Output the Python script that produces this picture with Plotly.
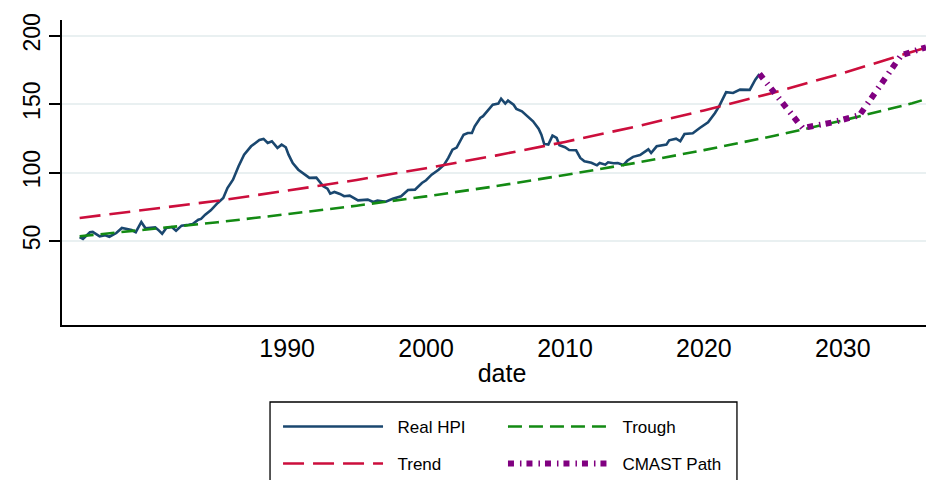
import plotly.graph_objects as go

# ---- data ----
hpi_date = [1975.06, 1975.3, 1975.8, 1976.0, 1976.5, 1976.9, 1977.2, 1977.7, 1978.1, 1978.4,
            1978.8, 1979.1, 1979.5, 1979.8, 1980.5, 1980.7, 1981.0, 1981.3, 1981.7, 1982.0,
            1982.4, 1982.9, 1983.2, 1983.6, 1983.8, 1984.1, 1984.5, 1985.0, 1985.4, 1985.7,
            1986.1, 1986.5, 1986.9, 1987.4, 1988.0, 1988.3, 1988.6, 1988.9, 1989.3, 1989.6,
            1989.9, 1990.1, 1990.4, 1990.8, 1991.3, 1991.6, 1992.1, 1992.6, 1992.9, 1993.1,
            1993.4, 1993.8, 1994.1, 1994.5, 1995.1, 1995.8, 1996.2, 1996.5, 1997.1, 1997.6,
            1998.2, 1998.7, 1999.2, 1999.7, 2000.0, 2000.4, 2000.9, 2001.3, 2001.6, 2001.9,
            2002.2, 2002.7, 2003.0, 2003.3, 2003.5, 2003.9, 2004.1, 2004.5, 2004.8, 2005.2,
            2005.4, 2005.7, 2005.9, 2006.3, 2006.5, 2006.9, 2007.3, 2007.7, 2008.1, 2008.3,
            2008.5, 2008.8, 2009.1, 2009.4, 2009.6, 2010.0, 2010.3, 2010.8, 2011.1, 2011.4,
            2011.9, 2012.3, 2012.5, 2012.9, 2013.1, 2013.5, 2013.8, 2014.2, 2014.5, 2014.9,
            2015.4, 2015.7, 2016.0, 2016.2, 2016.6, 2017.3, 2017.5, 2018.0, 2018.3, 2018.6,
            2019.2, 2019.7, 2020.3, 2020.8, 2021.1, 2021.6, 2022.1, 2022.6, 2023.3, 2023.7,
            2024.0]
hpi_value = [52.9, 51.5, 56.4, 56.6, 53.4, 54.2, 53.1, 55.8, 59.5, 58.8,
             58.0, 56.4, 63.9, 59.3, 60.0, 58.3, 55.3, 59.5, 60.2, 57.5,
             61.2, 61.9, 62.4, 65.6, 66.1, 69.2, 72.4, 77.8, 81.4, 88.7,
             94.8, 104.6, 113.1, 119.2, 123.8, 124.6, 121.6, 122.9, 118.0, 120.4,
             118.5, 113.1, 107.0, 102.1, 98.0, 96.1, 96.3, 90.0, 88.2, 84.6,
             85.8, 84.4, 82.7, 83.1, 79.7, 80.2, 78.5, 79.5, 78.7, 80.9,
             82.7, 87.3, 87.5, 92.4, 94.4, 98.5, 102.1, 105.8, 110.7, 116.7,
             118.3, 127.7, 128.9, 128.9, 133.8, 139.9, 141.2, 146.0, 149.6, 150.4,
             154.0, 150.4, 152.6, 149.6, 146.5, 144.8, 141.2, 137.5, 132.1, 127.7,
             120.9, 120.4, 127.0, 125.3, 120.0, 118.5, 116.5, 116.3, 110.7, 108.3,
             107.2, 105.3, 107.0, 105.8, 107.5, 106.8, 107.0, 105.5, 108.8, 111.5,
             112.8, 115.0, 117.0, 114.3, 119.2, 120.4, 123.6, 124.8, 122.9, 128.2,
             128.7, 132.6, 136.8, 143.6, 148.5, 158.7, 158.2, 160.6, 160.4, 167.9,
             172.1]

line_date = [1975.06, 1980, 1985, 1990, 1995, 2000, 2005, 2010, 2015, 2020, 2025, 2030, 2035, 2036.08]
trend_value = [66.8, 72.8, 79.4, 86.8, 94.6, 103.2, 112.4, 122.4, 133.4, 145.4, 158.4, 172.7, 188.2, 191.6]
trough_value = [53.4, 58.3, 63.7, 69.6, 75.8, 82.6, 90.0, 98.2, 106.9, 116.4, 126.7, 138.1, 150.6, 154.0]

cmast_date = [2024.0, 2027.1, 2029.2, 2031.2, 2034.2, 2035.1, 2036.0]
cmast_value = [172.1, 132.6, 136.5, 141.9, 185.7, 188.6, 191.6]

x_ticks = [1990, 2000, 2010, 2020, 2030]
y_ticks = [50, 100, 150, 200]

FONT = "Liberation Sans, Arial, sans-serif"
PAD = "\u00a0\u00a0"

fig = go.Figure()
fig.add_trace(go.Scatter(x=hpi_date, y=hpi_value, mode="lines", name=PAD + "Real HPI",
                         line=dict(color="#1a476f", width=2.6), legend="legend"))
fig.add_trace(go.Scatter(x=line_date, y=trough_value, mode="lines", name=PAD + "Trough",
                         line=dict(color="#138a13", width=2.6, dash="14px,7px"), legend="legend2"))
fig.add_trace(go.Scatter(x=line_date, y=trend_value, mode="lines", name=PAD + "Trend",
                         line=dict(color="#cc0e3c", width=2.6, dash="21px,9px"), legend="legend3"))
fig.add_trace(go.Scatter(x=cmast_date, y=cmast_value, mode="lines", name=PAD + "CMAST Path",
                         line=dict(color="#800080", width=6, dash="6px,6px,1.5px,5px"), legend="legend4"))

def leg(x, y):
    return dict(x=x, y=y, xanchor="left", yanchor="middle", orientation="v",
                bgcolor="rgba(0,0,0,0)", borderwidth=0, itemwidth=100,
                font=dict(family=FONT, size=17, color="#000000"))

fig.update_layout(
    width=934, height=480,
    margin=dict(l=54, r=0, t=12, b=163, autoexpand=False),
    paper_bgcolor="white", plot_bgcolor="white",
    font=dict(family=FONT, color="#000000"),
    legend=leg(0.2455, -0.3344),
    legend2=leg(0.5011, -0.3344),
    legend3=leg(0.2455, -0.4557),
    legend4=leg(0.5011, -0.4557),
    xaxis=dict(range=[1973.79, 2037.14], tickmode="array", tickvals=x_ticks,
               ticktext=[str(v) for v in x_ticks], ticks="", showgrid=False, zeroline=False,
               showline=True, linecolor="#000000", linewidth=1.6,
               tickfont=dict(size=25, family=FONT, color="#000000"),
               title=dict(text="date", font=dict(size=25, family=FONT, color="#000000"), standoff=4)),
    yaxis=dict(range=[-11.4, 211.5], tickmode="array", tickvals=y_ticks,
               ticktext=[str(v) for v in y_ticks], ticks="outside", ticklen=11, tickwidth=1.5,
               tickcolor="#000000", tickangle=-90,
               showgrid=True, gridcolor="#e9f0f1", gridwidth=2, zeroline=False,
               showline=True, linecolor="#000000", linewidth=1.6,
               tickfont=dict(size=23, family=FONT, color="#000000")),
    shapes=[dict(type="rect", xref="paper", yref="paper",
                 x0=0.2364, x1=0.767, y0=-0.2525, y1=-0.531,
                 line=dict(color="#000000", width=1.3), fillcolor="rgba(0,0,0,0)", layer="above")],
    showlegend=True,
)

fig.write_html("out.html")
